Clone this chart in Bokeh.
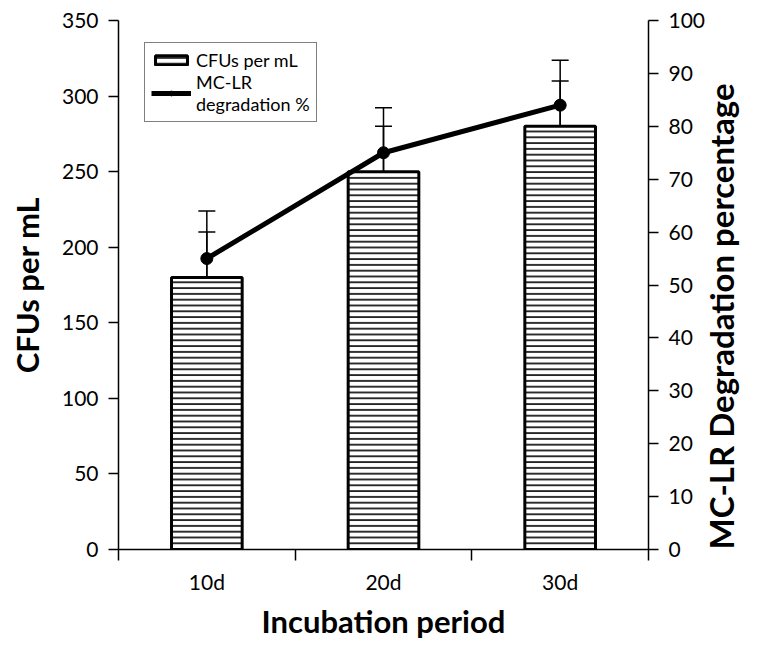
import math
from bokeh.plotting import figure
from bokeh.models import (Range1d, LinearAxis, FixedTicker, Whisker, TeeHead,
                          ColumnDataSource, Legend, LegendItem)
from bokeh.embed import file_html
from bokeh.resources import INLINE

categories = ["10d", "20d", "30d"]
cfu = [180, 250, 280]
cfu_err = [30, 30, 30]
mclr = [55, 75, 84]
mclr_err = [9, 8.5, 8.5]
left_ticks = [0, 50, 100, 150, 200, 250, 300, 350]
right_ticks = [0, 10, 20, 30, 40, 50, 60, 70, 80, 90, 100]

x = [i + 0.5 for i in range(len(categories))]
bounds = [i for i in range(len(categories) + 1)]

src = ColumnDataSource(dict(
    x=x, cfu=cfu,
    cfu_lo=[v - e for v, e in zip(cfu, cfu_err)],
    cfu_hi=[v + e for v, e in zip(cfu, cfu_err)],
    mclr=mclr,
    m_lo=[v - e for v, e in zip(mclr, mclr_err)],
    m_hi=[v + e for v, e in zip(mclr, mclr_err)],
))

FONT = "Lato"
TICK_FS = "21px"
LABEL_FS = "31px"

p = figure(width=764, height=651, x_range=Range1d(0, len(categories)),
           y_range=Range1d(0, 350), output_backend="svg", toolbar_location=None,
           min_border_left=118, min_border_right=110, min_border_top=20,
           min_border_bottom=102)
p.extra_y_ranges = {"pct": Range1d(0, 100)}
p.outline_line_color = None
p.grid.visible = False
p.background_fill_color = "white"
p.border_fill_color = "white"

# bars
bars = p.vbar(x="x", top="cfu", width=0.4, source=src, fill_color="white",
              line_color="black", line_width=3, hatch_pattern="horizontal_line",
              hatch_color="black", hatch_scale=5.8, hatch_weight=1.6)

# line
ln = p.line("x", "mclr", source=src, y_range_name="pct", line_color="black", line_width=5)
pts = p.scatter("x", "mclr", source=src, y_range_name="pct", size=12,
                fill_color="black", line_color="black")

# error bars
w1 = Whisker(base="x", lower="cfu_lo", upper="cfu_hi", source=src,
             line_color="black", line_width=1.5,
             upper_head=TeeHead(size=17, line_width=1.5, line_color="black"),
             lower_head=TeeHead(size=17, line_width=1.5, line_color="black"))
w2 = Whisker(base="x", lower="m_lo", upper="m_hi", source=src, y_range_name="pct",
             line_color="black", line_width=1.5,
             upper_head=TeeHead(size=17, line_width=1.5, line_color="black"),
             lower_head=TeeHead(size=17, line_width=1.5, line_color="black"))
p.add_layout(w1)
p.add_layout(w2)

# x axis
xa = p.xaxis[0]
xa.ticker = FixedTicker(ticks=x, minor_ticks=bounds)
xa.major_label_overrides = {xx: c for xx, c in zip(x, categories)}
xa.major_tick_out = 0
xa.major_tick_in = 0
xa.minor_tick_out = 11
xa.minor_tick_in = 0
xa.minor_tick_line_color = "black"
xa.minor_tick_line_width = 1.5
xa.axis_line_width = 1.5
xa.axis_line_color = "black"
xa.major_label_standoff = 8
xa.major_label_text_font = FONT
xa.major_label_text_font_size = TICK_FS
xa.major_label_text_color = "black"
xa.axis_label = "Incubation period"
xa.axis_label_text_font = FONT
xa.axis_label_text_font_style = "bold"
xa.axis_label_text_font_size = LABEL_FS
xa.axis_label_text_color = "black"
xa.axis_label_standoff = 5

# left axis
ya = p.yaxis[0]
ya.ticker = FixedTicker(ticks=left_ticks, minor_ticks=[])
ya.major_tick_out = 10
ya.major_tick_in = 0
ya.major_tick_line_width = 1.5
ya.axis_line_width = 1.5
ya.axis_line_color = "black"
ya.major_label_standoff = 10
ya.major_label_text_font = FONT
ya.major_label_text_font_size = TICK_FS
ya.major_label_text_color = "black"
ya.axis_label = "CFUs per mL"
ya.axis_label_text_font = FONT
ya.axis_label_text_font_style = "bold"
ya.axis_label_text_font_size = LABEL_FS
ya.axis_label_text_color = "black"
ya.axis_label_standoff = 13

# right axis
ra = LinearAxis(y_range_name="pct", ticker=FixedTicker(ticks=right_ticks, minor_ticks=[]))
ra.major_tick_out = 10
ra.major_tick_in = 0
ra.major_tick_line_width = 1.5
ra.axis_line_width = 1.5
ra.axis_line_color = "black"
ra.major_label_standoff = 10
ra.major_label_text_font = FONT
ra.major_label_text_font_size = TICK_FS
ra.major_label_text_color = "black"
ra.axis_label = "MC-LR Degradation percentage"
ra.axis_label_orientation = math.pi / 2
ra.axis_label_align = "start"
ra.axis_label_text_font = FONT
ra.axis_label_text_font_style = "bold"
ra.axis_label_text_font_size = "33px"
ra.axis_label_text_color = "black"
ra.axis_label_standoff = 13
p.add_layout(ra, "right")

legend = Legend(items=[LegendItem(label="CFUs per mL", renderers=[bars]),
                       LegendItem(label="MC-LR\ndegradation %", renderers=[ln, pts])],
                location=(26, 427), label_text_font=FONT, label_text_font_size="18px",
                label_text_color="black", glyph_width=40, glyph_height=12,
                label_standoff=5, spacing=0, padding=6, margin=0,
                border_line_color="black", border_line_width=1.5,
                background_fill_color="white", background_fill_alpha=1)
p.add_layout(legend)

open("out.html", "w").write(file_html(p, INLINE))
